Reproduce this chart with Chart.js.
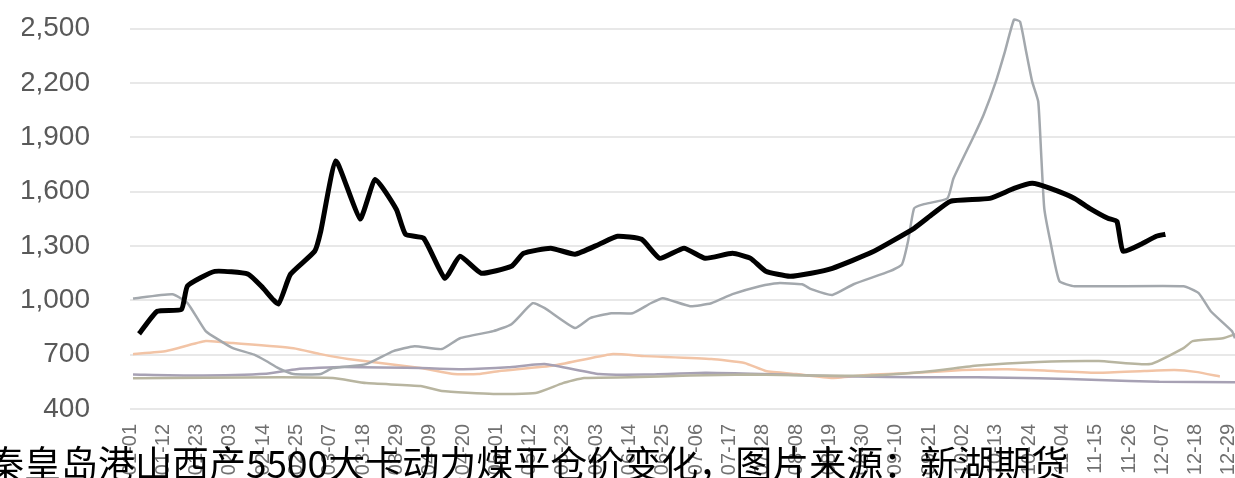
<!DOCTYPE html>
<html lang="zh">
<head>
<meta charset="UTF-8">
<title>秦皇岛港山西产5500大卡动力煤平仓价变化</title>
<script src="https://cdn.jsdelivr.net/npm/chart.js@4.4.0/dist/chart.umd.min.js"></script>
<style>
  html, body { margin: 0; padding: 0; background: #fff; overflow: hidden; }
  #wrap { position: relative; width: 1235px; height: 478px; overflow: hidden; }
  #box { position: absolute; left: 0; top: 0; width: 1235px; height: 491px; }
  #caption {
    position: absolute; left: -13px; top: 442px;
    font-family: "Noto Sans CJK SC", sans-serif; font-size: 37px; line-height: 40px;
    color: #000; white-space: nowrap;
  }
</style>
</head>
<body>
<div id="wrap">
  <div id="box"><canvas id="myChart"></canvas></div>
  <div id="caption">秦皇岛港山西产5500大卡动力煤平仓价变化，图片来源：新湖期货</div>
</div>
<script>
// x轴：一年中的第几天（闰年），每11天一个刻度
const tickDays = [0, 11, 22, 33, 44, 55, 66, 77, 88, 99, 110, 121, 132, 143, 154, 165, 176,
  187, 198, 209, 220, 231, 242, 253, 264, 275, 286, 297, 308, 319, 330, 341, 352, 363];
const tickLabels = ["01-01", "01-12", "01-23", "02-03", "02-14", "02-25", "03-07", "03-18", "03-29",
  "04-09", "04-20", "05-01", "05-12", "05-23", "06-03", "06-14", "06-25", "07-06", "07-17", "07-28",
  "08-08", "08-19", "08-30", "09-10", "09-21", "10-02", "10-13", "10-24", "11-04", "11-15", "11-26",
  "12-07", "12-18", "12-29"];
const yTicks = [400, 700, 1000, 1300, 1600, 1900, 2200, 2500];

// 2022
const days2022 = [3, 9, 17, 19, 28, 39, 44, 49, 53, 61, 63, 68, 76, 81, 88, 91, 97, 104, 109, 116,
  126, 130, 139, 147, 155, 161, 169, 175, 183, 190, 199, 205, 210, 218, 225, 232, 245, 259, 265,
  271, 284, 292, 298, 304, 312, 317, 323, 326, 328, 334, 339, 342];
const vals2022 = [815, 940, 950, 1080, 1160, 1145, 1067, 980, 1144, 1271, 1381, 1770, 1450, 1668,
  1502, 1365, 1343, 1122, 1243, 1150, 1188, 1260, 1288, 1255, 1310, 1354, 1337, 1232, 1288, 1232,
  1260, 1232, 1161, 1133, 1150, 1177, 1265, 1398, 1475, 1547, 1563, 1618, 1646, 1618, 1563, 1508,
  1453, 1436, 1271, 1310, 1354, 1365];

// 2021
const days2021 = [1, 14, 19, 25, 30, 34, 41, 45, 49, 54, 63, 67, 78, 87, 94, 103, 109, 120, 126,
  133, 137, 147, 152, 159, 166, 172, 176, 185, 192, 199, 208, 214, 222, 225, 232, 239, 251, 255,
  257, 259, 262, 270, 272, 279, 282, 286, 289, 292, 294, 296, 298, 300, 301, 302, 304, 307, 312,
  348, 353, 357, 364, 365];
const vals2021 = [1010, 1034, 985, 830, 775, 736, 700, 665, 626, 593, 593, 626, 648, 720, 747, 731,
  791, 830, 868, 984, 957, 847, 902, 929, 929, 984, 1012, 968, 984, 1034, 1078, 1095, 1089, 1062,
  1030, 1089, 1161, 1199, 1326, 1508, 1530, 1563, 1673, 1916, 2026, 2208, 2374, 2550, 2539, 2374,
  2208, 2098, 1800, 1508, 1326, 1106, 1078, 1078, 1040, 940, 830, 791];

// 2020
const days2020 = [1, 25, 50, 67, 78, 96, 103, 120, 134, 143, 150, 165, 185, 205, 225, 245, 265,
  280, 300, 320, 337, 348, 351, 361, 365];
const vals2020 = [570, 572, 575, 571, 543, 527, 499, 483, 488, 543, 571, 575, 585, 590, 585, 585,
  610, 640, 660, 665, 648, 736, 775, 791, 813];

// 2019
const days2019 = [1, 20, 45, 55, 70, 96, 110, 125, 137, 155, 170, 190, 205, 225, 240, 260, 280,
  300, 320, 340, 365];
const vals2019 = [590, 585, 595, 620, 632, 626, 620, 630, 648, 593, 590, 600, 595, 585, 580, 575,
  575, 570, 560, 550, 548];

// 2018
const days2018 = [1, 12, 25, 34, 54, 63, 72, 96, 107, 115, 122, 140, 159, 170, 192, 203, 210, 220,
  232, 245, 260, 275, 290, 305, 320, 335, 345, 352, 360];
const vals2018 = [703, 720, 775, 764, 736, 703, 676, 626, 593, 593, 610, 640, 703, 692, 676, 654,
  610, 593, 571, 590, 600, 615, 620, 610, 600, 610, 615, 605, 580];

function pts(d, v) {
  return d.map((x, i) => ({ x: x, y: v[i] }));
}

function line(label, d, v, color, width) {
  return {
    label: label,
    data: pts(d, v),
    borderColor: color,
    backgroundColor: color,
    borderWidth: width,
    pointRadius: 0,
    pointHoverRadius: 0,
    tension: 0.15,
    fill: false
  };
}

let ctx = document.getElementById('myChart').getContext('2d');
let myChart = new Chart(ctx, {
  type: 'line',
  data: {
    datasets: [
      line('2022', days2022, vals2022, '#000000', 5),
      line('2021', days2021, vals2021, '#a3a8ad', 2.5),
      line('2020', days2020, vals2020, '#b8b5a0', 2.5),
      line('2019', days2019, vals2019, '#a7a1b4', 2.5),
      line('2018', days2018, vals2018, '#f2c4a6', 2.5)
    ]
  },
  options: {
    responsive: true,
    maintainAspectRatio: false,
    animation: false,
    layout: { autoPadding: false, padding: { left: 22, right: 0, top: 7, bottom: 0 } },
    plugins: { legend: { display: false }, tooltip: { enabled: false } },
    scales: {
      x: {
        type: 'linear',
        min: 0,
        max: 365,
        afterBuildTicks: (scale) => { scale.ticks = tickDays.map(v => ({ value: v })); },
        afterFit: (scale) => { scale.height = 82; scale.paddingLeft = 0; scale.paddingRight = 0; },
        grid: { display: false, drawTicks: false },
        border: { display: false },
        ticks: {
          autoSkip: false,
          minRotation: 90,
          maxRotation: 90,
          padding: 15,
          color: '#707070',
          font: { family: '"Liberation Sans", Arial', size: 20 },
          callback: (val, i) => tickLabels[i]
        }
      },
      y: {
        min: 400,
        max: 2620,
        afterBuildTicks: (scale) => { scale.ticks = yTicks.map(v => ({ value: v })); },
        afterFit: (scale) => { scale.width = 108; scale.paddingTop = 0; scale.paddingBottom = 0; },
        grid: { color: '#e8e8e8', lineWidth: 2, drawTicks: false },
        border: { display: false },
        ticks: {
          padding: 40,
          color: '#595959',
          font: { family: '"Liberation Sans", Arial', size: 28 },
          callback: (val) => val.toLocaleString('en-US')
        }
      }
    }
  }
});
</script>
</body>
</html>
